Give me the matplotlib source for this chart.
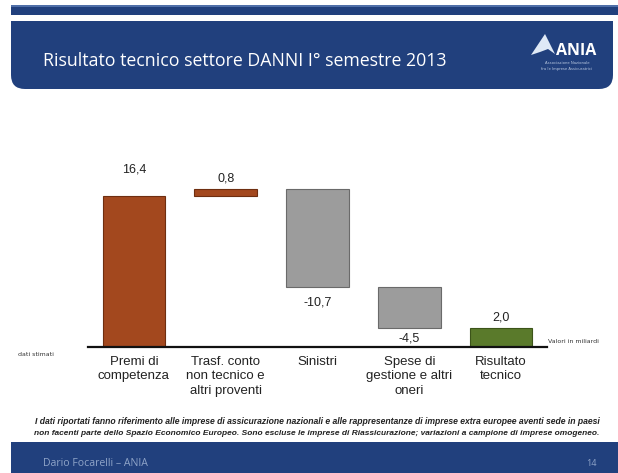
import matplotlib
matplotlib.use("Agg")
import matplotlib.pyplot as plt
from matplotlib.patches import Rectangle, FancyBboxPatch, Polygon

# step values of the technical result (billions of euro)
categories = ["Premi di\ncompetenza", "Trasf. conto\nnon tecnico e\naltri proventi",
              "Sinistri", "Spese di\ngestione e altri\noneri", "Risultato\ntecnico"]
values = [16.4, 0.8, -10.7, -4.5, 2.0]
value_labels = ["16,4", "0,8", "-10,7", "-4,5", "2,0"]
bar_colors = ["#a3481e", "#a3481e", "#9c9c9c", "#9c9c9c", "#5a7a2b"]
edge_colors = ["#6e2e10", "#6e2e10", "#6a6a6a", "#6a6a6a", "#3c5419"]
label_offsets = [19, 7, -11, -7, 8]   # points from the bar end

title = "Risultato tecnico settore DANNI I° semestre 2013"
note_1 = ("I dati riportati fanno riferimento alle imprese di assicurazione nazionali e alle "
          "rappresentanze di imprese extra europee aventi sede in paesi")
note_2 = ("non facenti parte dello Spazio Economico Europeo. Sono escluse le imprese di "
          "Riassicurazione; variazioni a campione di imprese omogeneo.")

BLUE = "#21407d"

# waterfall bases: each step starts where the previous one ended, the last bar is the total
bases = []
running = 0.0
for i, v in enumerate(values):
    if i == len(values) - 1:
        bases.append(0.0)
    else:
        bases.append(running if v >= 0 else running + v)
        running += v
heights = [abs(v) for v in values]

W, H = 618, 473
fig = plt.figure(figsize=(W / 100, H / 100), dpi=100)
fig.patch.set_facecolor("white")

# slide background drawn in pixel coordinates
bg = fig.add_axes([0, 0, 1, 1])
bg.set_xlim(0, W)
bg.set_ylim(H, 0)
bg.axis("off")

bg.add_patch(Rectangle((11, 5), W - 11, 10, color=BLUE, lw=0))
bg.add_patch(Rectangle((11, 5), W - 11, 2.5, color="#4f6fa8", lw=0))
bg.add_patch(FancyBboxPatch((11, 21), 602, 68, boxstyle="round,pad=0,rounding_size=14",
                            color=BLUE, lw=0))
bg.add_patch(Rectangle((11, 21), 602, 30, color=BLUE, lw=0))
bg.text(43, 61, title, color="white", fontsize=12.8, family="Open Sans",
        va="center", ha="left")

# ANIA mark
bg.add_patch(Polygon([(531, 55), (545, 34), (549, 42), (555, 54), (548, 49), (540, 52)],
                     closed=True, color="#dfe9f6", lw=0))
bg.text(556, 51, "ANIA", color="white", fontsize=11.5, family="Open Sans",
        fontweight="bold", va="center", ha="left")
bg.text(567, 66, "Associazione Nazionale\nfra le Imprese Assicuratrici", color="#b9c8e0",
        fontsize=2.7, ha="center", va="center", linespacing=1.5)

bg.text(18, 354, "dati stimati", fontsize=4.5, color="#333333", va="center", ha="left")
bg.text(548, 341, "Valori in miliardi", fontsize=4.5, color="#333333", va="center", ha="left")

bg.text(35, 421.5, note_1, fontsize=6.25, style="italic", fontweight="bold", color="#222222",
        ha="left", va="center", family="Liberation Sans")
bg.text(34, 433.5, note_2, fontsize=6.0, style="italic", fontweight="bold", color="#222222",
        ha="left", va="center", family="Liberation Sans")

bg.add_patch(Rectangle((11, 442), W - 11, H - 442, color=BLUE, lw=0))
bg.text(43, 463, "Dario Focarelli \u2013 ANIA", color="#8fa4c8", fontsize=7.6, va="center",
        family="Open Sans")
bg.text(591, 463, "14", color="#8fa4c8", fontsize=6.5, va="center", ha="center",
        family="Open Sans")

# waterfall chart
axis_y = 346.7
px_per_unit = 9.19
ylim_top = 20
ax_left, ax_right = 88, 547
ax = fig.add_axes([ax_left / W, (H - axis_y) / H, (ax_right - ax_left) / W,
                   ylim_top * px_per_unit / H])
ax.set_facecolor("none")
x = list(range(len(values)))
ax.bar(x, heights, bottom=bases, width=0.68, color=bar_colors, edgecolor=edge_colors,
       linewidth=0.8, zorder=2)
ax.set_xlim(-0.5, len(values) - 0.5)
ax.set_ylim(0, ylim_top)

for xi, v, b, h, lab, off in zip(x, values, bases, heights, value_labels, label_offsets):
    anchor = b + h if off > 0 else b
    ax.annotate(lab, (xi, anchor), xytext=(0, off), textcoords="offset points",
                ha="center", va="center", fontsize=9, color="#222222",
                family="Liberation Sans", annotation_clip=False)

ax.set_xticks(x)
ax.set_xticklabels(categories, fontsize=9.5, family="Liberation Sans", color="#222222",
                   linespacing=1.3)
ax.tick_params(axis="x", length=0, pad=6.5)
ax.set_yticks([])
for side in ["top", "right", "left"]:
    ax.spines[side].set_visible(False)
ax.spines["bottom"].set_linewidth(1.6)
ax.spines["bottom"].set_color("#111111")

fig.savefig("out.png", dpi=100)
